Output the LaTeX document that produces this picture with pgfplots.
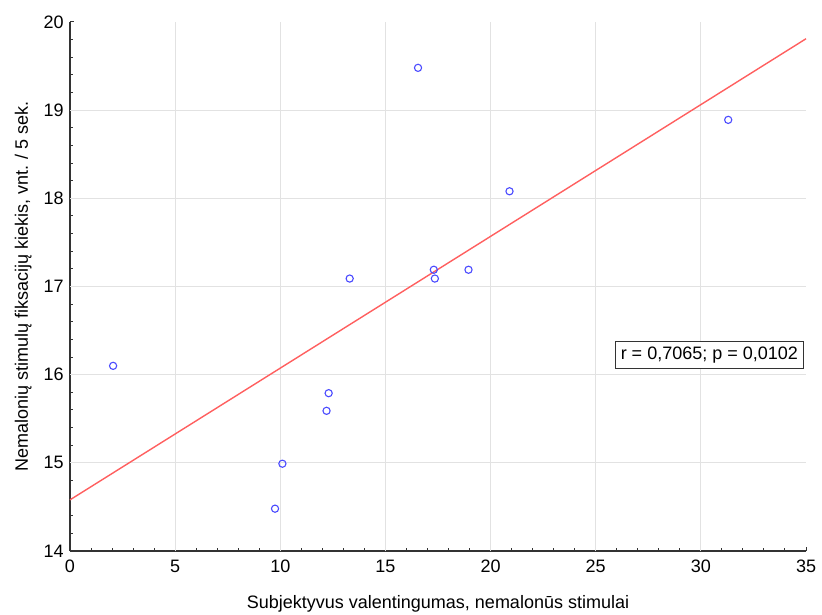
\documentclass[border=0pt]{standalone}
\usepackage{fontspec}
\setmainfont{Liberation Sans}
\usepackage{pgfplots}
\pgfplotsset{compat=1.18}
\definecolor{ptblue}{RGB}{75,75,255}
\definecolor{fitred}{RGB}{255,95,95}
\definecolor{gridgray}{RGB}{226,226,226}
\begin{document}
\fontsize{9}{11}\selectfont
\begin{tikzpicture}
\begin{axis}[
    at={(0,0)}, anchor=south west,
    scale only axis,
    width=368pt, height=264.5pt,
    xmin=0, xmax=35, ymin=14, ymax=20,
    axis lines=left,
    axis line style={-, draw=black!80, line width=0.6pt},
    xtick={0,5,...,35},
    ytick={14,15,...,20},
    minor tick num=4,
    tick align=inside,
    major tick length=2.2pt,
    minor tick length=1.3pt,
    tick style={black!80, line width=0.5pt},
    extra x ticks={5,10,...,30},
    extra y ticks={15,16,...,19},
    extra x tick labels={},
    extra y tick labels={},
    extra tick style={grid=major, major tick length=0pt},
    major grid style={gridgray, line width=0.6pt},
    /pgf/number format/assume math mode=true,
    xticklabel style={font=\fontsize{9}{11}\selectfont, yshift=-1.5pt},
    yticklabel style={font=\fontsize{9}{11}\selectfont},
    xlabel={Subjektyvus valentingumas, nemalonūs stimulai},
    ylabel={Nemalonių stimulų fiksacijų kiekis, vnt. / 5 sek.},
    xlabel style={at={(axis description cs:0.5,0)}, anchor=north, yshift=-19pt},
    ylabel style={at={(axis description cs:0,0.5)}, anchor=south, yshift=16pt},
    clip=false,
]
\addplot[only marks, mark=o, mark size=1.8pt, mark options={draw=ptblue, line width=0.55pt}]
coordinates {
(2.05,16.1) (9.75,14.48) (10.1,14.99) (12.2,15.59) (12.3,15.79) (13.3,17.09)
(16.55,19.48) (17.3,17.19) (17.35,17.09) (18.95,17.19) (20.9,18.08) (31.3,18.89)
};
\addplot[fitred, line width=0.7pt] coordinates {(0,14.58) (35,19.81)};
\node[draw=black!80, line width=0.6pt, fill=white, inner sep=2.7pt, anchor=east]
  at (axis cs:34.9,16.22) {r = 0,7065; p = 0,0102};
\end{axis}
\pgfresetboundingbox
\path (-35pt,-31.5pt) rectangle (376pt,275.5pt);
\end{tikzpicture}
\end{document}
